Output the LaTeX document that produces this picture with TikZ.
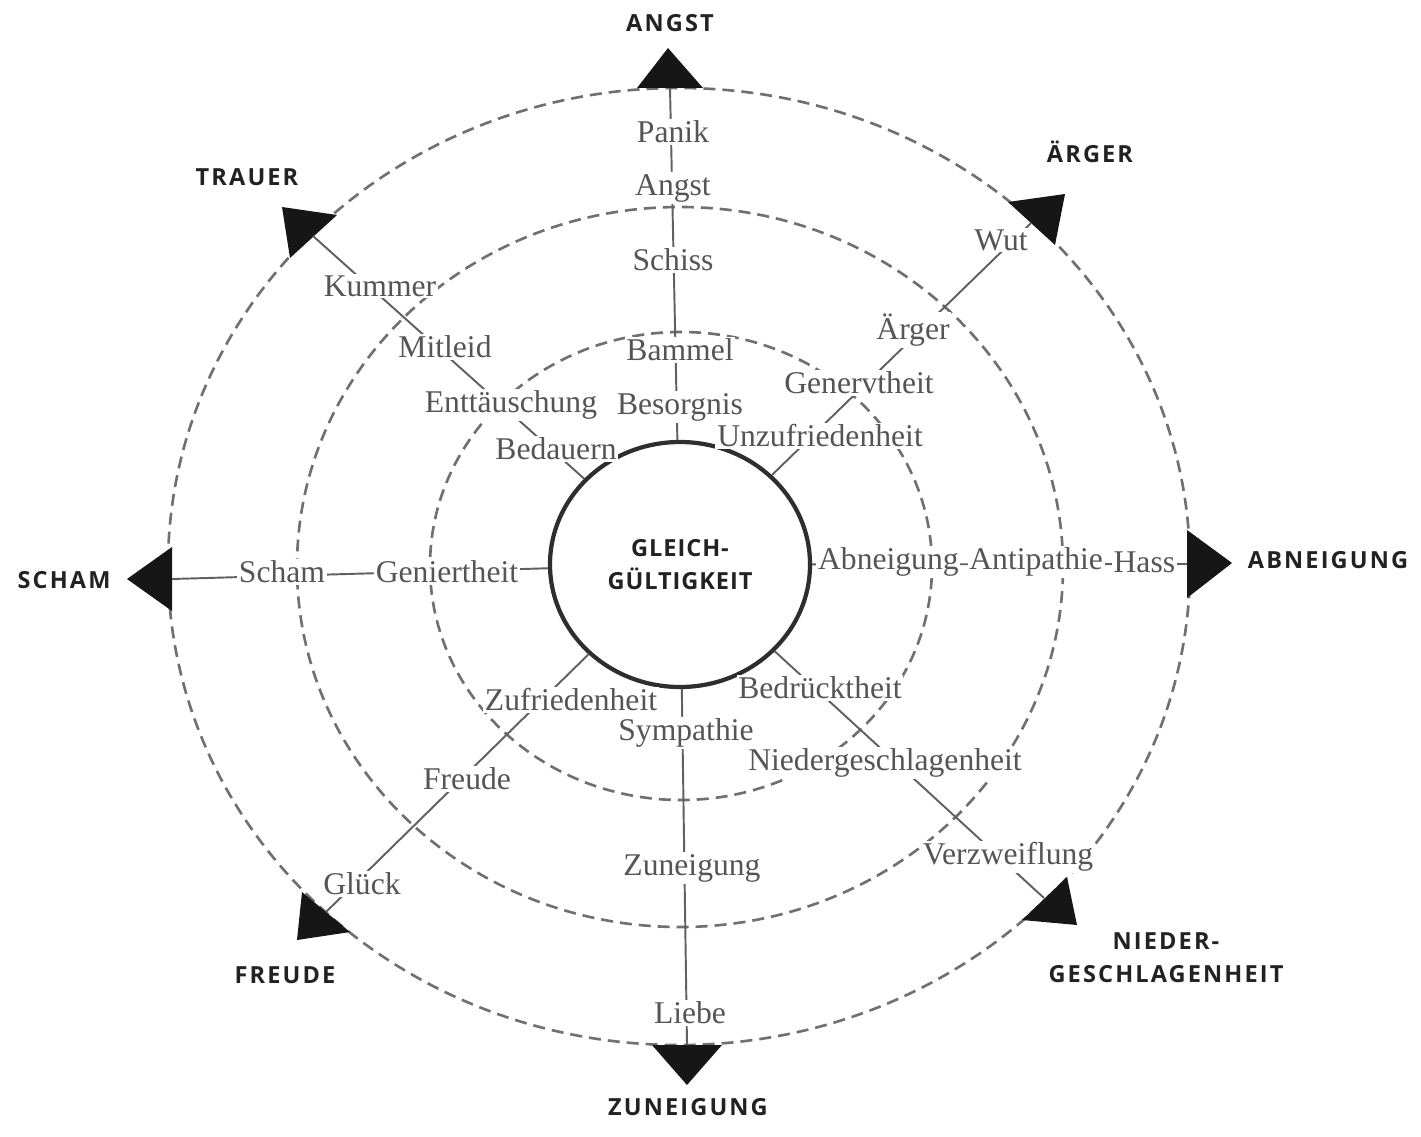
\documentclass[tikz,border=0pt]{standalone}
\usepackage{fontspec}
\setmainfont{Liberation Serif}
\newfontfamily\hfont{Open Sans}[LetterSpace=9]
\newfontfamily\cfont{Open Sans}[LetterSpace=4]
\usetikzlibrary{shapes.geometric,positioning}
\definecolor{txt}{HTML}{555555}
\definecolor{ln}{HTML}{606060}
\definecolor{dsh}{HTML}{707070}
\definecolor{hd}{HTML}{222222}
\definecolor{tri}{HTML}{161616}
\definecolor{rim}{HTML}{2E2E2E}
\begin{document}
\begin{tikzpicture}[x=0.2mm,y=-0.2mm,
  lbl/.style={fill=white,inner sep=1pt,text=txt,font=\fontsize{18}{20}\selectfont},
  head/.style={text=hd,font=\hfont\bfseries\fontsize{13.4}{18.7}\selectfont,align=center,inner sep=0pt},
  corehead/.style={text=hd,font=\cfont\bfseries\fontsize{13.4}{18.7}\selectfont,align=center},
  ring/.style={draw=dsh,dash pattern=on 2.4mm off 1.4mm,line width=1.5pt},
  conn/.style={draw=ln,line width=1.1pt},
  tribox/.style={fill=tri,draw=none}]
\useasboundingbox (0,0) rectangle (1421,1136);
\fill[white] (0,0) rectangle (1421,1136);

% dashed rings
\draw[ring] (679,566.5) ellipse [x radius=102.2mm, y radius=95.7mm];
\draw[ring] (680,567) ellipse [x radius=76.6mm, y radius=72mm];
\draw[ring] (681,566) ellipse [x radius=50.2mm, y radius=46.8mm];

% centre
\node[ellipse,draw=rim,line width=2.4pt,minimum width=52mm,minimum height=49mm,inner sep=0pt,corehead] (core) at (680,564.5) {GLEICH-\\GÜLTIGKEIT};

% triangle base midpoints
\coordinate (tA) at (670,88);
\coordinate (tR) at (1187,564);
\coordinate (tB) at (687,1045);
\coordinate (tL) at (172,579);
\coordinate (tT) at (313,236);
\coordinate (tE) at (1031,223);
\coordinate (tF) at (326,912);
\coordinate (tN) at (1044,898);

% triangles
\fill[tribox] (637,88) -- (668,48) -- (703,88) -- cycle;
\fill[tribox] (1187,530) -- (1232,563) -- (1187,598) -- cycle;
\fill[tribox] (652,1045) -- (687,1085) -- (722,1045) -- cycle;
\fill[tribox] (172,547) -- (127,579) -- (172,611) -- cycle;
\fill[tribox] (337,215) -- (282,207) -- (290,258) -- cycle;
\fill[tribox] (1008,202) -- (1065,194) -- (1055,245) -- cycle;
\fill[tribox] (302,892) -- (297,940) -- (350,932) -- cycle;
\fill[tribox] (1067,877) -- (1077,925) -- (1022,920) -- cycle;

% connectors
\draw[conn] (core) -- (tA);
\draw[conn] (core) -- (tR);
\draw[conn] (core) -- (tB);
\draw[conn] (core) -- (tL);
\draw[conn] (core) -- (tT);
\draw[conn] (core) -- (tE);
\draw[conn] (core) -- (tF);
\draw[conn] (core) -- (tN);

% labels: Angst axis
\node[lbl] (panik) at (673,132) {Panik};
\node[lbl] (angst) at (673,188) {Angst};
\node[lbl] (schiss) at (673,260) {Schiss};
\node[lbl] (bammel) at (680,350) {Bammel};
\node[lbl] (besorgnis) at (680,407) {Besorgnis};
% Trauer axis
\node[lbl] (kummer) at (380,286) {Kummer};
\node[lbl] (mitleid) at (445,347) {Mitleid};
\node[lbl] (enttaeu) at (511,405) {Enttäuschung};
\node[lbl] (bedauern) at (556,449) {Bedauern};
% Aerger axis
\node[lbl] (wut) at (1001,240) {Wut};
\node[lbl] (aerger) at (913,330) {Ärger};
\node[lbl] (genervt) at (859,383) {Genervtheit};
\node[lbl] (unzufr) at (820,436) {Unzufriedenheit};
% Scham axis
\node[lbl] (scham) at (282,572) {Scham};
\node[lbl] (geniert) at (447,572) {Geniertheit};
% Abneigung axis
\node[lbl,anchor=west] (abn) at (816,562) {Abneigung};
\node[lbl,right=1.3mm of abn] (anti) {Antipathie};
\node[lbl,right=1.3mm of anti] (hass) {Hass};
% Freude axis
\node[lbl] (zufr) at (571,700) {Zufriedenheit};
\node[lbl] (freude) at (467,779) {Freude};
\node[lbl] (glueck) at (362,884) {Glück};
% Zuneigung axis
\node[lbl] (sympathie) at (686,733) {Sympathie};
\node[lbl] (zuneig) at (692,868) {Zuneigung};
\node[lbl] (liebe) at (690,1013) {Liebe};
% Niedergeschlagenheit axis
\node[lbl] (bedrueckt) at (820,688) {Bedrücktheit};
\node[lbl] (niederg) at (885,763) {Niedergeschlagenheit};
\node[lbl] (verzw) at (1008,857) {Verzweiflung};

% headings
\node[head] (hA) at (670,23) {ANGST};
\node[head] (hT) at (247,177) {TRAUER};
\node[head] (hE) at (1090,152) {ÄRGER};
\node[head] (hL) at (64,580) {SCHAM};
\node[head] (hR) at (1328,560) {ABNEIGUNG};
\node[head] (hF) at (285,975) {FREUDE};
\node[head] (hN) at (1166,958) {NIEDER-\\GESCHLAGENHEIT};
\node[head] (hB) at (688,1107) {ZUNEIGUNG};
\end{tikzpicture}
\end{document}
